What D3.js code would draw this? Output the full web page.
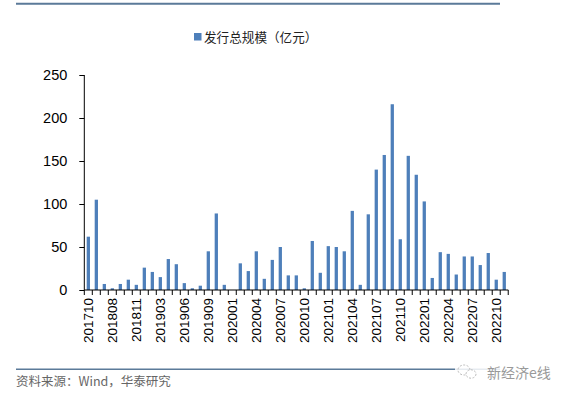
<!DOCTYPE html>
<html><head><meta charset="utf-8">
<script src="https://cdn.jsdelivr.net/npm/d3@7"></script>
<style>body{margin:0;background:#fff;}svg{display:block;}</style>
</head><body>
<svg id="c" width="568" height="398"></svg>
<script>
const categories = ["201710","201711","201712","201808","201809","201810","201811","201812","201901","201903",
"201904","201905","201906","201907","201908","201909","201910","201911","202001","202002",
"202003","202004","202005","202006","202007","202008","202009","202010","202011","202012",
"202101","202102","202103","202104","202105","202106","202107","202108","202109","202110",
"202111","202112","202201","202202","202203","202204","202205","202206","202207","202208",
"202209","202210","202211"];
const values = [62,105,7,2,7,12,6,26,21,15,
36,30,8,2,5,45,89,6,0,31,
22,45,13,35,50,17,17,2,57,20,
51,50,45,92,6,88,140,157,216,59,
156,134,103,14,44,42,18,39,39,29,
43,12,21];
const yTicks = [0,50,100,150,200,250];
const seriesName = "发行总规模（亿元）";
const sourceText = "资料来源：Wind，华泰研究";
const watermark = "新经济e线";

const svg = d3.select("#c");
const x = d3.scaleBand().domain(categories).range([84.3, 508.3]).paddingInner(0.59).paddingOuter(0.3);
const y = d3.scaleLinear().domain([0,250]).range([290,75]);

// top rule
svg.append("line").attr("x1",16).attr("x2",500).attr("y1",3.8).attr("y2",3.8)
  .attr("stroke","#5b7a99").attr("stroke-width",2);

// legend
svg.append("rect").attr("x",194).attr("y",33).attr("width",7.5).attr("height",7.5).attr("fill","#4e7fba");
svg.append("text").attr("x",204).attr("y",41.5).text(seriesName)
  .attr("font-family","'Noto Sans CJK SC'").attr("font-size",12.6).attr("fill","#222");

// bars
svg.append("g").selectAll("rect").data(values).join("rect")
  .attr("x",(d,i)=>x(categories[i]))
  .attr("width",x.bandwidth())
  .attr("y",d=>y(d))
  .attr("height",d=>y(0)-y(d))
  .attr("fill","#4e7fba");

// y axis
const ya = svg.append("g").attr("transform","translate(84.3,0)")
  .call(d3.axisLeft(y).tickValues(yTicks).tickSize(5).tickPadding(12));
ya.select(".domain").attr("d","M0,75V290");
ya.selectAll("text").attr("font-family","Arial, 'Liberation Sans'").attr("font-size",14.5).attr("fill","#000");
ya.selectAll("line,path").attr("stroke","#000");

// x axis
const xa = svg.append("g").attr("transform","translate(0,290)");
xa.append("line").attr("x1",84.3).attr("x2",508.3).attr("stroke","#000");
const step = x.step();
const bounds = d3.range(categories.length+1).map(i=>84.3+i*step);
xa.selectAll("line.t").data(bounds).join("line").attr("class","t")
  .attr("x1",d=>d).attr("x2",d=>d).attr("y1",0).attr("y2",5).attr("stroke","#000");
xa.selectAll("text").data(categories.filter((c,i)=>i%3===0)).join("text")
  .attr("transform",d=>`translate(${x(d)+x.bandwidth()/2+5},8) rotate(-90)`)
  .attr("text-anchor","end")
  .attr("font-family","Arial, 'Liberation Sans'").attr("font-size",13.5).attr("fill","#000")
  .text(d=>d);

// bottom rule & source
svg.append("line").attr("x1",16).attr("x2",500).attr("y1",369.3).attr("y2",369.3)
  .attr("stroke","#5b7a99").attr("stroke-width",1.6);
svg.append("text").attr("x",16).attr("y",386).text(sourceText)
  .attr("font-family","'Noto Sans CJK SC'").attr("font-size",12.5).attr("fill","#666");

// watermark
const wm = svg.append("g");
wm.append("rect").attr("x",455).attr("y",362).attr("width",100).attr("height",18).attr("fill","#fff").attr("opacity",0.85);
wm.append("ellipse").attr("cx",464).attr("cy",370).attr("rx",6).attr("ry",5).attr("fill","none").attr("stroke","#bbb").attr("stroke-dasharray","2,1.5");
wm.append("ellipse").attr("cx",471).attr("cy",374).attr("rx",5).attr("ry",4.2).attr("fill","#fff").attr("stroke","#bbb").attr("stroke-dasharray","2,1.5");
wm.append("text").attr("x",487).attr("y",378).text(watermark)
  .attr("font-family","'Noto Sans CJK SC'").attr("font-size",14).attr("fill","#999");
</script>
</body></html>
